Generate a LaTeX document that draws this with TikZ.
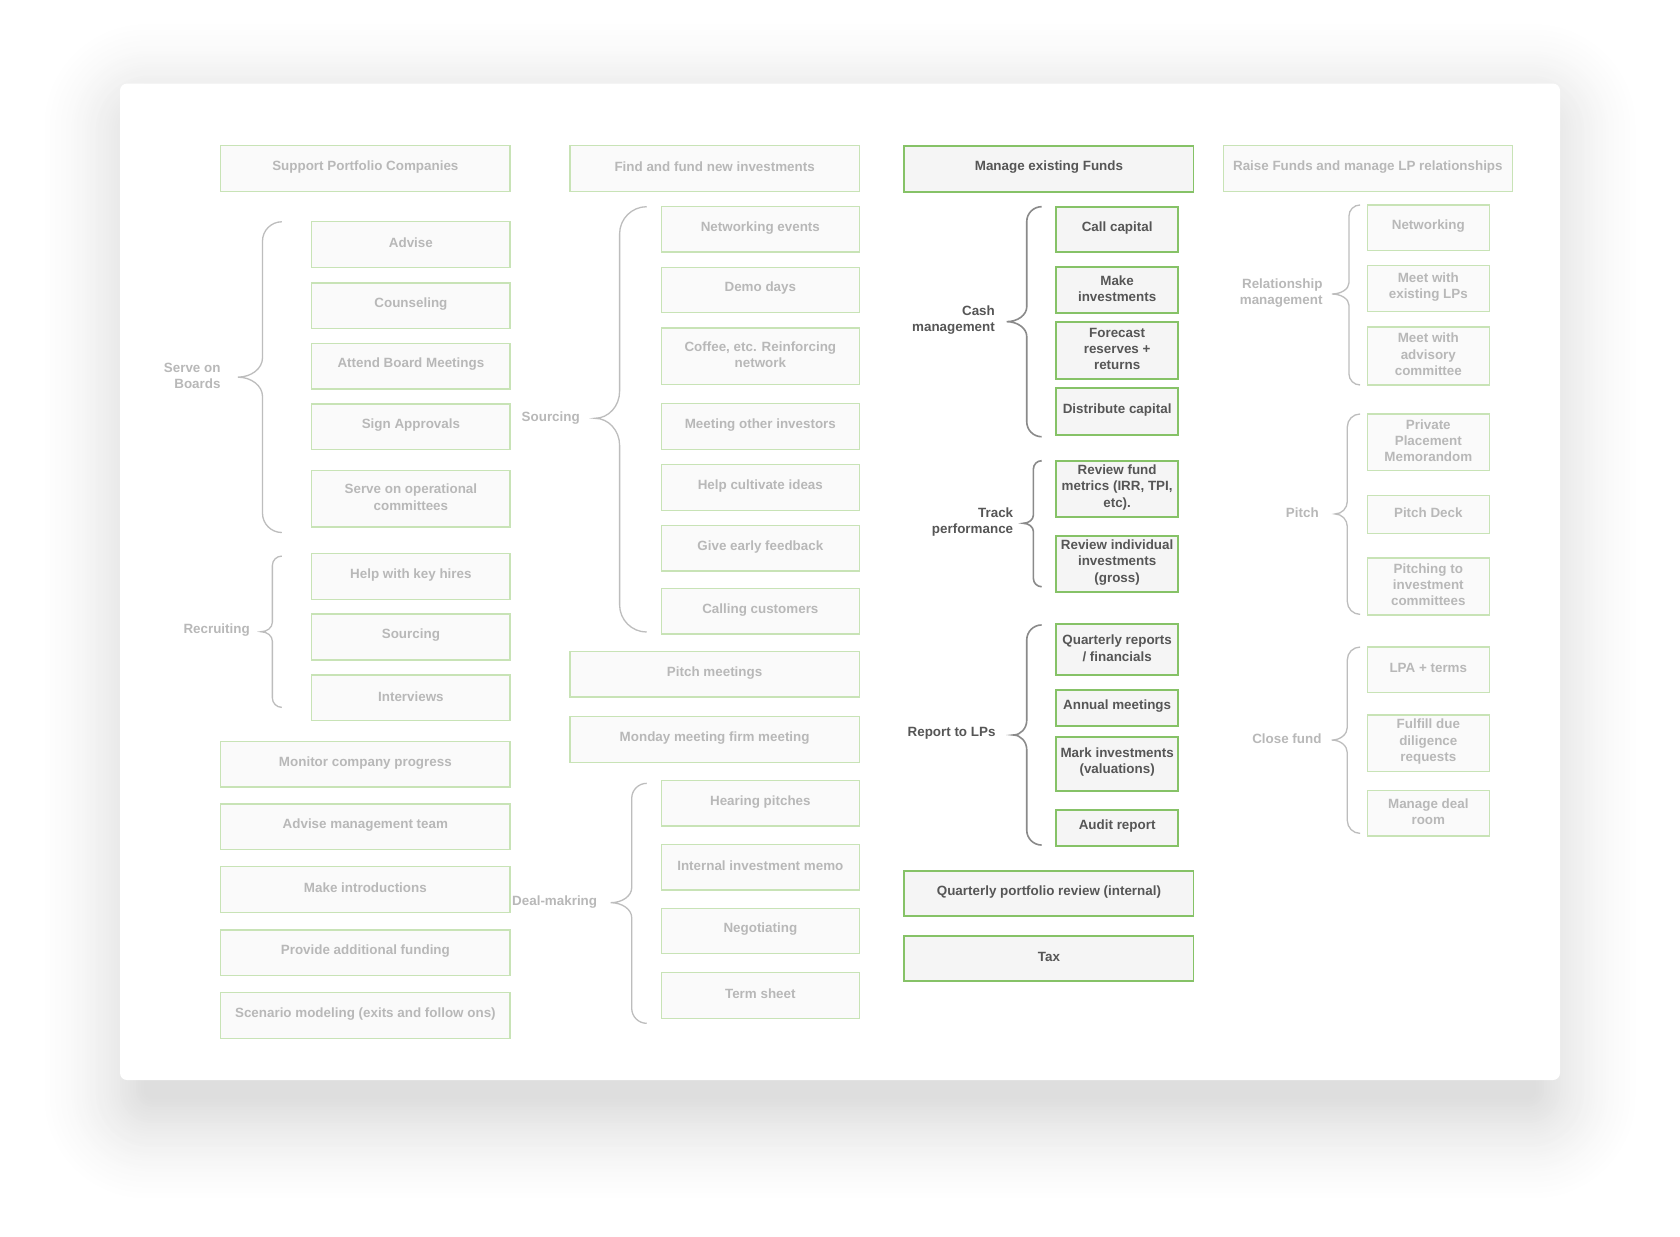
\documentclass[tikz,border=0pt]{standalone}
\usepackage{fontspec}
\setmainfont{Liberation Sans}
\usetikzlibrary{fit}
\definecolor{lgreen}{HTML}{C8E3B6}
\definecolor{dgreen}{HTML}{86C267}
\definecolor{ltext}{HTML}{B8B8B8}
\definecolor{dtext}{HTML}{565656}
\definecolor{lfill}{HTML}{FAFAFA}
\definecolor{dfill}{HTML}{F5F5F5}
\definecolor{lbrace}{HTML}{BDBDBD}
\definecolor{dbrace}{HTML}{8A8A8A}
\tikzset{
  base/.style={font=\fontsize{13.4}{16.3}\selectfont\bfseries, align=center, inner sep=0pt, rectangle},
  lbox/.style={rectangle, inner sep=0pt, draw=lgreen, fill=lfill, line width=1.4pt},
  dbox/.style={rectangle, inner sep=0pt, draw=dgreen, fill=dfill, line width=1.8pt},
  lboxt/.style={base, text=ltext},
  dboxt/.style={base, text=dtext},
  llab/.style={base, text=ltext, align=right, anchor=east},
  dlab/.style={base, text=dtext, align=right, anchor=east},
  lbr/.style={draw=lbrace, line width=1.3pt},
  dbr/.style={draw=dbrace, line width=1.6pt},
}
% #1 style, #2 name, #3 x1, #4 y1, #5 x2, #6 y2, #7 text
\newcommand\mybox[7]{%
  \pgfmathsetmacro\bxX{(#3+#5)/2}%
  \pgfmathsetmacro\bxY{(#4+#6)/2-1.5}%
  \node[#1, fit={(#3,#4) (#5,#6)}] (#2) {};
  \node[#1t] (#2t) at (\bxX,\bxY) {#7};}
% #1 style, #2 xtip, #3 xv, #4 xend, #5 ytop, #6 ymid, #7 ybot
\newcommand\mybrace[7]{%
  \pgfmathsetmacro\brR{#4-#3}%
  \pgfmathsetmacro\brA{#4-0.55*\brR}%
  \pgfmathsetmacro\brB{#5+0.45*\brR}%
  \pgfmathsetmacro\brC{#5+\brR}%
  \pgfmathsetmacro\brD{#6-\brR}%
  \pgfmathsetmacro\brE{#6-0.45*\brR}%
  \pgfmathsetmacro\brF{#2+0.55*(#3-#2)}%
  \pgfmathsetmacro\brG{#6+0.45*\brR}%
  \pgfmathsetmacro\brH{#6+\brR}%
  \pgfmathsetmacro\brI{#7-\brR}%
  \pgfmathsetmacro\brJ{#7-0.45*\brR}%
  \draw[#1] (#4,#5) .. controls (\brA,#5) and (#3,\brB) .. (#3,\brC)
    -- (#3,\brD) .. controls (#3,\brE) and (\brF,#6) .. (#2,#6)
    .. controls (\brF,#6) and (#3,\brG) .. (#3,\brH)
    -- (#3,\brI) .. controls (#3,\brJ) and (\brA,#7) .. (#4,#7);}
\begin{document}
\begin{tikzpicture}[x=1.071429pt, y=-1.071429pt]
\useasboundingbox (0,0) rectangle (1568,1154);
\fill[white] (0,0) rectangle (1568,1154);
% soft shadow of the card
\foreach \i in {40,39,...,1}{%
  \pgfmathsetmacro\s{2.5*\i}%
  \pgfmathsetmacro\rc{7+\s}%
  \pgfmathsetmacro\dk{13*((41-\i)/40)^1.5}%
  \pgfmathsetmacro\xa{137-\s}%
  \pgfmathsetmacro\ya{118-\s}%
  \pgfmathsetmacro\xb{1431+\s}%
  \pgfmathsetmacro\yb{1023+\s}%
  \fill[black!\dk!white, rounded corners=\rc pt] (\xa,\ya) rectangle (\xb,\yb);
}
\fill[white, rounded corners=7pt] (112,78) rectangle (1456,1008);

% ---------- Column 1 ----------
\mybox{lbox}{spc}{206}{136}{476}{179}{Support Portfolio Companies}
\mybox{lbox}{adv}{291}{207}{476}{249.5}{Advise}
\mybox{lbox}{cns}{291}{264}{476}{306.5}{Counseling}
\mybox{lbox}{abm}{291}{320.5}{476}{363}{Attend Board Meetings}
\mybox{lbox}{sap}{291}{377}{476}{419.5}{Sign Approvals}
\mybox{lbox}{soc}{291}{439.3}{476}{491.9}{Serve on operational\\committees}
\mybox{lbox}{hkh}{291}{516.8}{476}{559.4}{Help with key hires}
\mybox{lbox}{srca}{291}{573}{476}{616}{Sourcing}
\mybox{lbox}{intv}{291}{630}{476}{672.6}{Interviews}
\mybox{lbox}{mcp}{206}{692}{476}{734.5}{Monitor company progress}
\mybox{lbox}{amt}{206}{750.5}{476}{793}{Advise management team}
\mybox{lbox}{mki}{206}{809}{476}{851.5}{Make introductions}
\mybox{lbox}{paf}{206}{867.8}{476}{910.3}{Provide additional funding}
\mybox{lbox}{scm}{206}{926.5}{476}{969}{Scenario modeling (exits and follow ons)}
\mybrace{lbr}{222}{245}{263}{207}{352}{497}
\mybrace{lbr}{243.6}{254.2}{263}{519}{589.6}{660.2}
\node[llab] (sob) at (206,350.6) {Serve on\\Boards};
\node[llab] (rec) at (233.3,588) {Recruiting};

% ---------- Column 2 ----------
\mybox{lbox}{ffn}{532}{136}{802}{179}{Find and fund new investments}
\mybox{lbox}{nev}{617.3}{192.9}{802}{235.2}{Networking events}
\mybox{lbox}{dmd}{617.3}{249.5}{802}{291.8}{Demo days}
\mybox{lbox}{cof}{617.3}{306.1}{802}{359}{Coffee, etc. Reinforcing\\network}
\mybox{lbox}{moi}{617.3}{376.8}{802}{419.4}{Meeting other investors}
\mybox{lbox}{hci}{617.3}{433.4}{802}{476.3}{Help cultivate ideas}
\mybox{lbox}{gef}{617.3}{490.3}{802}{533}{Give early feedback}
\mybox{lbox}{clc}{617.3}{549.4}{802}{591.7}{Calling customers}
\mybox{lbox}{pim}{532}{608}{802}{650.5}{Pitch meetings}
\mybox{lbox}{mmf}{532}{668.9}{802}{711.5}{Monday meeting firm meeting}
\mybox{lbox}{hep}{617.3}{728.6}{802}{771}{Hearing pitches}
\mybox{lbox}{iim}{617.3}{788}{802}{830.7}{Internal investment memo}
\mybox{lbox}{neg}{617.3}{847.8}{802}{890.1}{Negotiating}
\mybox{lbox}{trs}{617.3}{907.8}{802}{950.5}{Term sheet}
\mybrace{lbr}{555.3}{578.3}{603.6}{192.9}{390.4}{589.9}
\mybrace{lbr}{570}{589.6}{603.6}{731.1}{842.5}{955.1}
\node[llab] (srcl) at (541.3,389.8) {Sourcing};
\node[llab] (dml) at (557.5,841.6) {Deal-makring};

% ---------- Column 3 ----------
\mybox{dbox}{mef}{844}{136}{1114}{179}{Manage existing Funds}
\mybox{dbox}{cca}{985.6}{192.9}{1099.7}{235.5}{Call capital}
\mybox{dbox}{mkin}{985.6}{249.2}{1099.7}{292.1}{Make\\investments}
\mybox{dbox}{frr}{985.6}{300.8}{1099.7}{353.7}{Forecast\\reserves +\\returns}
\mybox{dbox}{dca}{985.6}{362.4}{1099.7}{405.7}{Distribute capital}
\mybox{dbox}{rfm}{985.6}{430}{1099.7}{482.8}{Review fund\\metrics (IRR, TPI,\\etc).}
\mybox{dbox}{rii}{985.6}{500}{1099.7}{552.8}{Review individual\\investments\\(gross)}
\mybox{dbox}{qrf}{985.6}{582.7}{1099.7}{630.3}{Quarterly reports\\/ financials}
\mybox{dbox}{anm}{985.6}{644}{1099.7}{677.3}{Annual meetings}
\mybox{dbox}{miv}{985.6}{687.9}{1099.7}{738}{Mark investments\\(valuations)}
\mybox{dbox}{aur}{985.6}{756}{1099.7}{789.3}{Audit report}
\mybox{dbox}{qpr}{844}{812.6}{1114}{854.7}{Quarterly portfolio review (internal)}
\mybox{dbox}{tax}{844}{873.3}{1114}{915.3}{Tax}
\mybrace{dbr}{939.6}{958.3}{972.2}{192.9}{300.2}{407.6}
\mybrace{dbr}{955}{964.5}{972.2}{430}{488.4}{547.6}
\mybrace{dbr}{945.8}{958.3}{972.2}{583.3}{686}{788.7}
\node[dlab] (cml) at (928.7,298.7) {Cash\\management};
\node[dlab] (tpl) at (945.8,487.2) {Track\\performance};
\node[dlab] (rtl) at (929.3,684.4) {Report to LPs};

% ---------- Column 4 ----------
\mybox{lbox}{rfl}{1141.8}{136}{1411.5}{179}{Raise Funds and manage LP relationships}
\mybox{lbox}{ntw}{1276.2}{191.3}{1390}{234}{Networking}
\mybox{lbox}{mel}{1276.2}{248}{1390}{290.9}{Meet with\\existing LPs}
\mybox{lbox}{mac}{1276.2}{305.2}{1390}{359.3}{Meet with\\advisory\\committee}
\mybox{lbox}{ppm}{1276.2}{386.4}{1390}{439.3}{Private\\Placement\\Memorandom}
\mybox{lbox}{pdk}{1276.2}{462.3}{1390}{497.8}{Pitch Deck}
\mybox{lbox}{pic}{1276.2}{520.8}{1390}{574}{Pitching to\\investment\\committees}
\mybox{lbox}{lpa}{1276.2}{603.9}{1390}{646.5}{LPA + terms}
\mybox{lbox}{fdd}{1276.2}{667.3}{1390}{720}{Fulfill due\\diligence\\requests}
\mybox{lbox}{mdr}{1276.2}{737.7}{1390}{780.3}{Manage deal\\room}
\mybrace{lbr}{1243}{1259}{1269.4}{191.3}{274.4}{359.3}
\mybrace{lbr}{1246}{1257.5}{1269.4}{386.4}{479.7}{573.4}
\mybrace{lbr}{1243}{1257.5}{1269.4}{603.9}{690.7}{777.8}
\node[llab] (rml) at (1234.5,273.8) {Relationship\\management};
\node[llab] (pil) at (1231,478.5) {Pitch};
\node[llab] (cfl) at (1233.6,689.1) {Close fund};
\end{tikzpicture}
\end{document}
